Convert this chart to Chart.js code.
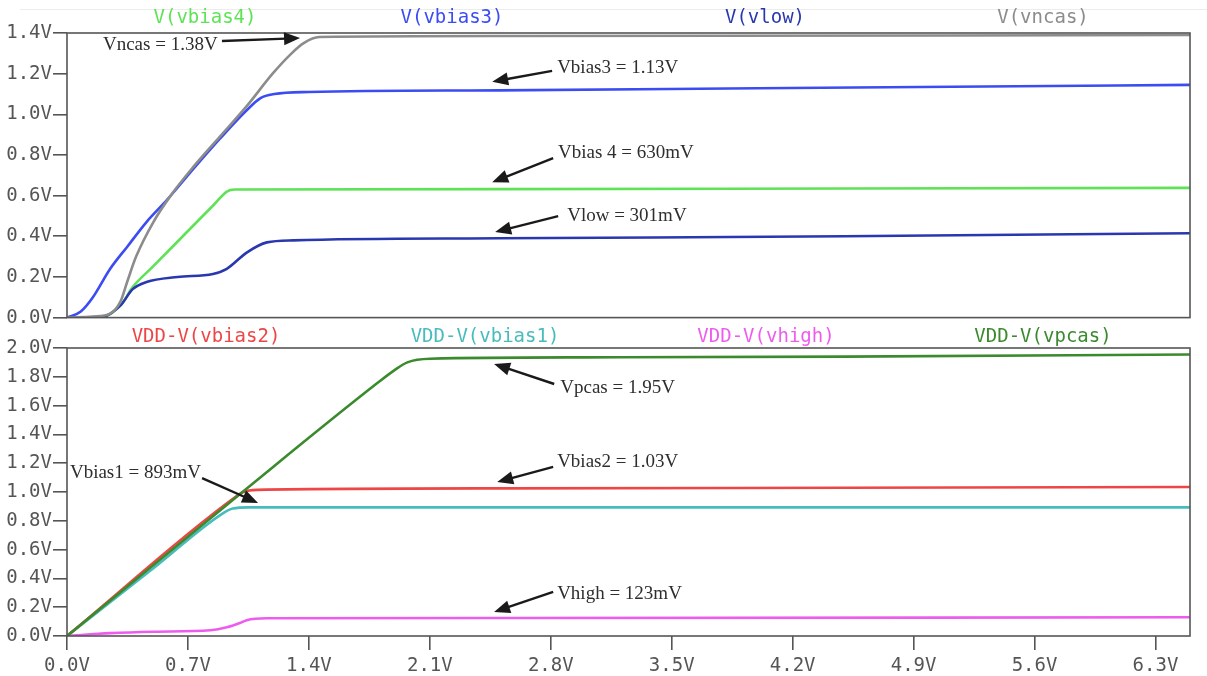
<!DOCTYPE html>
<html>
<head>
<meta charset="utf-8">
<script src="https://cdn.jsdelivr.net/npm/chart.js@4.4.1/dist/chart.umd.min.js"></script>
<style>
  html, body { margin: 0; padding: 0; background: #fff; }
  body { width: 1207px; height: 676px; position: relative; overflow: hidden; }
  canvas { position: absolute; left: 0; }
  #topc { top: 0; }
  #botc { top: 322px; }
  #rule { position: absolute; left: 20px; right: 0; top: 9px; height: 1px; background: #ececec; }
</style>
</head>
<body>
<div id="rule"></div>
<canvas id="topc" width="1207" height="330"></canvas>
<canvas id="botc" width="1207" height="354"></canvas>
<script>
// ---------- data (x = sweep voltage, y = node voltage) ----------
const xTickValues = [0, 0.7, 1.4, 2.1, 2.8, 3.5, 4.2, 4.9, 5.6, 6.3];
const topYTicks = [0, 0.2, 0.4, 0.6, 0.8, 1.0, 1.2, 1.4];
const botYTicks = [0, 0.2, 0.4, 0.6, 0.8, 1.0, 1.2, 1.4, 1.6, 1.8, 2.0];

const topLabels = ['V(vbias4)', 'V(vbias3)', 'V(vlow)', 'V(vncas)'];
const botLabels = ['VDD-V(vbias2)', 'VDD-V(vbias1)', 'VDD-V(vhigh)', 'VDD-V(vpcas)'];

const vbias4 = [[0,0],[0.19,0.0],[0.31,0.06],[0.38,0.15],[0.5,0.253],[0.7,0.426],[0.85,0.555],[0.925,0.62],[0.97,0.63],[2.5,0.632],[4.5,0.635],[6.5,0.638]];
const vbias3 = [[0,0],[0.08,0.03],[0.15,0.1],[0.25,0.24],[0.35,0.35],[0.46,0.47],[0.58,0.58],[0.73,0.73],[0.885,0.88],[1.04,1.02],[1.12,1.08],[1.2,1.10],[1.4,1.11],[2.5,1.118],[4.0,1.128],[5.5,1.138],[6.5,1.145]];
const vlow = [[0,0],[0.19,0.0],[0.31,0.06],[0.38,0.14],[0.46,0.175],[0.64,0.20],[0.845,0.215],[0.925,0.24],[1.04,0.32],[1.157,0.37],[1.31,0.38],[2.5,0.39],[4.5,0.40],[6.5,0.415]];
const vncas = [[0,0],[0.15,0.005],[0.25,0.02],[0.31,0.08],[0.35,0.18],[0.40,0.30],[0.50,0.47],[0.6,0.6],[0.73,0.74],[0.885,0.89],[1.04,1.04],[1.19,1.20],[1.30,1.30],[1.37,1.35],[1.46,1.38],[2.5,1.385],[6.5,1.39]];

const vbias2 = [[0,0],[0.98,0.97],[1.02,1.0],[1.1,1.015],[2.5,1.025],[4.5,1.03],[6.5,1.035]];
const vbias1 = [[0,0],[0.5,0.47],[0.9,0.85],[0.96,0.885],[1.05,0.893],[3,0.893],[6.5,0.893]];
const vhigh = [[0,0],[0.25,0.02],[0.5,0.03],[0.83,0.04],[0.925,0.06],[1.0,0.09],[1.04,0.11],[1.157,0.123],[2.5,0.125],[6.5,0.13]];
const vpcas = [[0,0],[1.0,0.985],[1.8,1.76],[1.9,1.85],[1.97,1.9],[2.1,1.925],[3,1.935],[4.5,1.94],[6.5,1.955]];

// annotations: text anchor (tx,ty) and arrow tail (x0,y0) -> head (x1,y1), in data units
const topNotes = [
  { text: 'Vncas = 1.38V',   tx: 0.208, ty: 1.341, x0: 0.897, y0: 1.361, x1: 1.349, y1: 1.375 },
  { text: 'Vbias3 = 1.13V',  tx: 2.837, ty: 1.229, x0: 2.808, y0: 1.214, x1: 2.461, y1: 1.160 },
  { text: 'Vbias 4 = 630mV', tx: 2.842, ty: 0.808, x0: 2.814, y0: 0.784, x1: 2.461, y1: 0.666 },
  { text: 'Vlow = 301mV',    tx: 2.895, ty: 0.500, x0: 2.843, y0: 0.499, x1: 2.478, y1: 0.421 }
];
const botNotes = [
  { text: 'Vpcas = 1.95V',   tx: 2.855, ty: 1.722, x0: 2.820, y0: 1.750, x1: 2.472, y1: 1.889 },
  { text: 'Vbias2 = 1.03V',  tx: 2.837, ty: 1.208, x0: 2.814, y0: 1.174, x1: 2.490, y1: 1.069 },
  { text: 'Vbias1 = 893mV',  tx: 0.017, ty: 1.132, x0: 0.782, y0: 1.097, x1: 1.106, y1: 0.924 },
  { text: 'Vhigh = 123mV',   tx: 2.837, ty: 0.292, x0: 2.814, y0: 0.306, x1: 2.472, y1: 0.167 }
];

// ---------- styling ----------
const MONO = '"DejaVu Sans Mono", "Liberation Mono", monospace';
const SERIF = '"Liberation Serif", "DejaVu Serif", serif';
const AXIS = '#555555';

const toPts = arr => arr.map(p => ({ x: p[0], y: p[1] }));
function ds(label, arr, color, order) {
  return {
    label, data: toPts(arr), borderColor: color, backgroundColor: color,
    borderWidth: 2.6, pointRadius: 0, fill: false,
    cubicInterpolationMode: 'monotone', order
  };
}

const framePlugin = {
  id: 'frame',
  afterDatasetsDraw(chart) {
    const a = chart.chartArea, ctx = chart.ctx;
    ctx.save();
    ctx.strokeStyle = AXIS; ctx.lineWidth = 1.6;
    ctx.strokeRect(a.left, a.top, a.right - a.left, a.bottom - a.top);
    ctx.restore();
  }
};

function drawArrow(ctx, x0, y0, x1, y1) {
  const ang = Math.atan2(y1 - y0, x1 - x0);
  const L = 16, W = 6.5;
  const c = Math.cos(ang), s = Math.sin(ang);
  const bx = x1 - L * c, by = y1 - L * s;
  ctx.beginPath(); ctx.moveTo(x0, y0); ctx.lineTo(bx + 2 * c, by + 2 * s); ctx.stroke();
  ctx.beginPath();
  ctx.moveTo(x1, y1);
  ctx.lineTo(bx - W * s, by + W * c);
  ctx.lineTo(bx + W * s, by - W * c);
  ctx.closePath(); ctx.fill();
}

const notesPlugin = {
  id: 'notes',
  afterDraw(chart, args, opts) {
    const ctx = chart.ctx, xs = chart.scales.x, ys = chart.scales.y;
    ctx.save();
    // series labels above the panel
    ctx.font = '19px ' + MONO;
    ctx.textAlign = 'center'; ctx.textBaseline = 'middle';
    chart.data.datasets.forEach(d => {
      const pos = opts.labelPos[d.label];
      if (!pos) return;
      ctx.fillStyle = d.borderColor;
      ctx.fillText(d.label, pos, opts.labelY);
    });
    // annotations
    ctx.font = '19px ' + SERIF;
    ctx.textAlign = 'left'; ctx.textBaseline = 'middle';
    ctx.strokeStyle = '#1a1a1a'; ctx.lineWidth = 2.4;
    opts.notes.forEach(n => {
      ctx.fillStyle = '#2e2e2e';
      ctx.fillText(n.text, xs.getPixelForValue(n.tx), ys.getPixelForValue(n.ty));
      ctx.fillStyle = '#1a1a1a';
      drawArrow(ctx, xs.getPixelForValue(n.x0), ys.getPixelForValue(n.y0),
                     xs.getPixelForValue(n.x1), ys.getPixelForValue(n.y1));
    });
    ctx.restore();
  }
};

function yScale(max, ticks) {
  return {
    type: 'linear', min: 0, max,
    afterBuildTicks: s => { s.ticks = ticks.map(v => ({ value: v })); },
    afterFit: s => { s.width = 67; },
    ticks: {
      color: AXIS, padding: 1,
      font: { family: MONO, size: 19 },
      callback: v => Number(v).toFixed(1) + 'V'
    },
    grid: { display: true, drawOnChartArea: false, drawTicks: true, tickLength: 14, color: AXIS, lineWidth: 1.6 },
    border: { display: false }
  };
}

function xScale(show, h) {
  return {
    type: 'linear', min: 0, max: 6.5,
    afterBuildTicks: s => { s.ticks = xTickValues.map(v => ({ value: v })); },
    afterFit: s => { s.height = h; },
    ticks: {
      display: show, color: AXIS, padding: 5, maxRotation: 0, autoSkip: false,
      font: { family: MONO, size: 19 },
      callback: v => Number(v).toFixed(1) + 'V'
    },
    grid: { display: show, drawOnChartArea: false, drawTicks: true, tickLength: 14, color: AXIS, lineWidth: 1.6 },
    border: { display: false }
  };
}

const common = {
  responsive: false, animation: false, events: [],
  plugins: { legend: { display: false }, tooltip: { enabled: false } }
};

new Chart(document.getElementById('topc'), {
  type: 'line',
  data: {
    datasets: [
      ds(topLabels[0], vbias4, '#5fe356', 4),
      ds(topLabels[1], vbias3, '#3a4cf2', 3),
      ds(topLabels[2], vlow,   '#2a38b0', 2),
      ds(topLabels[3], vncas,  '#8c8c8c', 1)
    ]
  },
  options: Object.assign({}, common, {
    layout: { padding: { top: 33, right: 17, left: 0, bottom: 0 } },
    scales: { x: xScale(false, 11), y: yScale(1.4, topYTicks) },
    plugins: Object.assign({}, common.plugins, {
      notes: {
        labelY: 18,
        labelPos: { 'V(vbias4)': 205, 'V(vbias3)': 452, 'V(vlow)': 765, 'V(vncas)': 1043 },
        notes: topNotes
      }
    })
  }),
  plugins: [framePlugin, notesPlugin]
});

new Chart(document.getElementById('botc'), {
  type: 'line',
  data: {
    datasets: [
      ds(botLabels[0], vbias2, '#ee4646', 3),
      ds(botLabels[1], vbias1, '#48bcbc', 4),
      ds(botLabels[2], vhigh,  '#ee5cee', 2),
      ds(botLabels[3], vpcas,  '#3b8a2e', 1)
    ]
  },
  options: Object.assign({}, common, {
    layout: { padding: { top: 26, right: 17, left: 0, bottom: 0 } },
    scales: { x: xScale(true, 40), y: yScale(2.0, botYTicks) },
    plugins: Object.assign({}, common.plugins, {
      notes: {
        labelY: 15,
        labelPos: { 'VDD-V(vbias2)': 206, 'VDD-V(vbias1)': 485, 'VDD-V(vhigh)': 766, 'VDD-V(vpcas)': 1043 },
        notes: botNotes
      }
    })
  }),
  plugins: [framePlugin, notesPlugin]
});
</script>
</body>
</html>
